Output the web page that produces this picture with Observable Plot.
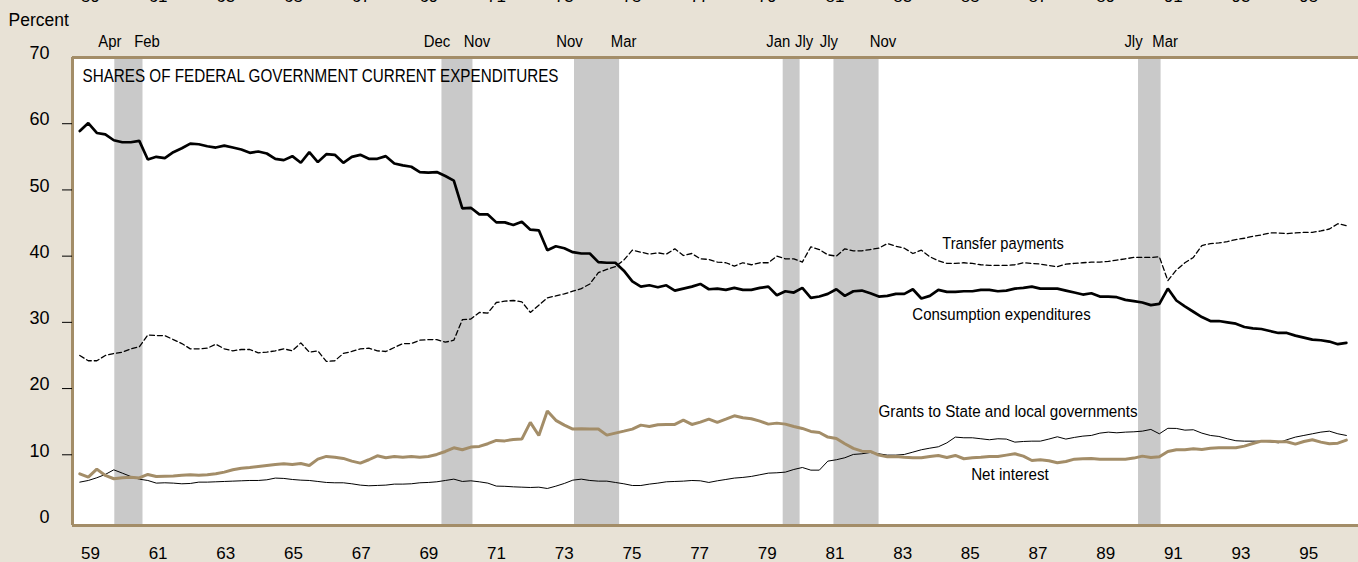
<!DOCTYPE html>
<html><head><meta charset="utf-8">
<script src="https://cdn.jsdelivr.net/npm/d3@7"></script>
<script src="https://cdn.jsdelivr.net/npm/@observablehq/plot@0.6"></script>
<style>
html,body{margin:0;padding:0;background:#e8e2d6;}
#chart{width:1358px;height:562px;overflow:hidden;}
</style></head><body><div id="chart"></div>
<script>
// Quarterly shares (percent), 1959 Q1 onward
const consumption = [58.9,60.1,58.6,58.4,57.5,57.2,57.2,57.4,54.6,55.0,54.8,55.7,56.3,57.0,56.9,56.6,56.4,56.7,56.4,56.1,
55.6,55.8,55.5,54.7,54.5,55.1,54.1,55.7,54.2,55.4,55.3,54.1,55.0,55.3,54.7,54.7,55.1,54.0,53.7,53.5,
52.7,52.6,52.7,52.1,51.4,47.2,47.3,46.3,46.3,45.1,45.1,44.7,45.2,44.0,43.9,40.9,41.5,41.2,40.6,40.4,
40.4,39.1,39.0,39.0,37.8,36.2,35.4,35.6,35.3,35.6,34.8,35.1,35.4,35.8,35.0,35.1,34.9,35.2,34.9,34.9,
35.2,35.4,34.1,34.7,34.5,35.2,33.7,33.9,34.3,35.0,34.0,34.7,34.8,34.4,33.9,34.0,34.3,34.3,35.0,33.6,
34.0,34.9,34.6,34.6,34.7,34.7,34.9,34.9,34.7,34.8,35.1,35.2,35.4,35.1,35.1,35.1,34.8,34.5,34.2,34.4,
33.9,33.9,33.8,33.4,33.2,33.0,32.6,32.8,35.1,33.3,32.4,31.6,30.8,30.2,30.2,30.0,29.8,29.3,29.1,29.0,
28.7,28.4,28.4,28.0,27.7,27.4,27.3,27.1,26.7,26.9];
const transfer = [25.0,24.2,24.2,25.0,25.3,25.5,26.0,26.3,28.1,28.0,28.0,27.4,26.8,26.0,26.0,26.1,26.7,26.0,25.7,25.9,
25.9,25.4,25.5,25.7,26.0,25.7,26.9,25.5,25.7,24.1,24.2,25.3,25.6,26.0,26.1,25.7,25.6,26.2,26.8,26.8,
27.3,27.4,27.4,27.0,27.3,30.4,30.5,31.5,31.4,33.0,33.2,33.3,33.1,31.5,32.6,33.7,34.0,34.3,34.7,35.1,
35.8,37.5,38.0,38.4,39.4,40.9,40.6,40.3,40.5,40.3,41.1,40.1,40.4,39.6,39.5,39.1,39.0,38.5,39.0,38.7,
39.0,39.0,40.0,39.6,39.6,39.1,41.4,41.0,40.2,40.0,41.1,40.8,40.8,41.0,41.2,41.9,41.5,41.2,40.4,40.9,
39.9,39.3,38.9,38.9,39.0,38.9,38.7,38.6,38.6,38.6,38.7,39.0,38.9,38.8,38.6,38.4,38.8,38.9,39.0,39.1,
39.1,39.2,39.4,39.6,39.8,39.8,39.8,39.9,36.3,37.9,39.0,39.8,41.6,41.9,42.0,42.2,42.5,42.7,43.0,43.2,
43.5,43.5,43.4,43.5,43.6,43.6,43.8,44.1,44.9,44.6];
const grants = [7.13,6.62,7.83,6.88,6.38,6.53,6.62,6.5,7.03,6.72,6.77,6.8,6.9,6.98,6.9,7.0,7.13,7.38,7.73,7.98,
8.08,8.24,8.39,8.54,8.64,8.54,8.69,8.39,9.34,9.75,9.64,9.45,9.04,8.74,9.25,9.85,9.55,9.75,9.64,9.75,
9.64,9.75,10.05,10.5,11.06,10.76,11.16,11.26,11.67,12.17,12.1,12.32,12.37,14.9,12.92,16.6,15.2,14.48,13.88,13.93,
13.88,13.88,12.97,13.27,13.57,13.88,14.48,14.28,14.53,14.58,14.58,15.23,14.58,14.93,15.38,14.88,15.38,15.89,15.59,15.44,
15.08,14.63,14.78,14.63,14.28,13.98,13.53,13.37,12.67,12.47,11.67,10.96,10.55,10.5,9.95,9.7,9.75,9.64,9.55,9.55,
9.75,9.9,9.6,9.9,9.4,9.55,9.64,9.75,9.75,9.95,10.15,9.8,9.14,9.25,9.1,8.8,8.99,9.34,9.4,9.45,
9.34,9.34,9.34,9.34,9.5,9.8,9.6,9.7,10.5,10.76,10.76,10.91,10.81,11.0,11.06,11.06,11.06,11.31,11.71,12.06,
12.06,11.96,11.96,11.61,12.01,12.27,11.91,11.67,11.76,12.21];
const netInterest = [5.87,6.12,6.53,7.03,7.73,7.23,6.72,6.32,6.12,5.72,5.77,5.72,5.62,5.67,5.87,5.87,5.92,5.97,6.02,6.07,
6.12,6.12,6.22,6.48,6.43,6.27,6.17,6.12,5.97,5.82,5.77,5.77,5.62,5.42,5.32,5.37,5.42,5.57,5.57,5.62,
5.77,5.82,5.92,6.12,6.32,5.97,6.07,5.92,5.72,5.27,5.24,5.16,5.11,5.06,5.11,4.91,5.26,5.67,6.17,6.32,
6.12,6.02,6.02,5.82,5.62,5.36,5.36,5.57,5.72,5.92,5.97,6.02,6.12,6.07,5.82,6.07,6.27,6.48,6.58,6.73,
6.98,7.23,7.28,7.38,7.78,8.08,7.68,7.68,9.04,9.25,9.55,10.05,10.15,10.35,10.15,9.95,9.95,10.05,10.4,10.76,
11.0,11.21,11.8,12.67,12.57,12.57,12.42,12.27,12.42,12.37,11.91,12.01,12.06,12.06,12.37,12.72,12.37,12.62,12.82,12.92,
13.27,13.42,13.32,13.42,13.47,13.57,13.83,13.17,14.0,13.98,13.72,13.78,13.27,12.92,12.77,12.42,12.12,12.06,12.06,12.06,
11.96,11.81,12.27,12.67,12.92,13.17,13.42,13.57,13.17,12.92];

// Recessions (peak month -> trough month)
const recessionStart = ["1960-04","1969-12","1973-11","1980-01","1981-07","1990-07"];
const recessionEnd   = ["1961-02","1970-11","1975-03","1980-07","1982-11","1991-03"];
const recessionStartLabel = ["Apr","Dec","Nov","Jan","Jly","Jly"];
const recessionEndLabel   = ["Feb","Nov","Mar","Jly","Nov","Mar"];

const yearTicks = d3.range(1959, 1997, 2);
const yearLabels = yearTicks.map(y => String(y % 100).padStart(2, "0"));
const yTickValues = [0,10,20,30,40,50,60,70];
const yTickMarkValues = [10,20,30,40,50,60];

const titleText = "SHARES OF FEDERAL GOVERNMENT CURRENT EXPENDITURES";
const seriesLabels = ["Transfer payments","Consumption expenditures","Grants to State and local governments","Net interest"];

// ---- layout / style (not data) ----
const C = {bg:"#e8e2d6", tan:"#a38d68", band:"#c9c9c9", ink:"#000"};
const FONT = "'Liberation Sans', Arial, Helvetica, sans-serif";
const yMin = -0.68, yMax = 70;
const t0 = 1959.2157, dt = 0.25118;   // quarter positions on the time axis
const labelAnchors = [
  {t:1986.497, v:41.11}, {t:1986.45, v:30.39}, {t:1986.645, v:15.68}, {t:1986.70, v:6.22}
];
const targetWidths = {
  [titleText]:476, "Transfer payments":121.6, "Consumption expenditures":178.3,
  "Grants to State and local governments":259, "Net interest":77.6
};

const monthToT = s => { const [y,m] = s.split("-").map(Number); return y + (m-1)/12; };
const recessions = recessionStart.map((s,i)=>({start:monthToT(s), end:monthToT(recessionEnd[i]), a:recessionStartLabel[i], b:recessionEndLabel[i]}));
const rows = arr => arr.map((v,i)=>({t: t0 + dt*i, v}));
const labels = seriesLabels.map((s,i)=>({text:s, ...labelAnchors[i]}));
const yearRows = yearTicks.map((y,i)=>({t:y+0.5, label:yearLabels[i]}));

const plot = Plot.plot({
  width: 1358, height: 562,
  marginLeft: 72, marginRight: 0, marginTop: 57, marginBottom: 37,
  x: {domain: [1959, 1997], axis: null},
  y: {domain: [yMin, yMax], axis: null},
  style: {background: C.bg, fontFamily: FONT, color: C.ink},
  marks: [
    Plot.frame({fill: "white", stroke: null}),
    Plot.rect(recessions, {x1: "start", x2: "end", y1: yMin, y2: yMax, fill: C.band}),
    Plot.line(rows(netInterest), {x:"t", y:"v", stroke:C.ink, strokeWidth:1}),
    Plot.line(rows(grants), {x:"t", y:"v", stroke:C.tan, strokeWidth:3, strokeLinejoin:"miter"}),
    Plot.line(rows(transfer), {x:"t", y:"v", stroke:C.ink, strokeWidth:1.3, strokeDasharray:"5,3"}),
    Plot.line(rows(consumption), {x:"t", y:"v", stroke:C.ink, strokeWidth:2.7, strokeLinejoin:"miter"}),
    // frame borders (left, top, bottom)
    Plot.ruleX([1959], {stroke:C.tan, strokeWidth:3}),
    Plot.ruleY([yMax, yMin], {stroke:C.tan, strokeWidth:3, x1:1959, x2:1997}),
    // y ticks and labels
    Plot.axisY(yTickMarkValues, {anchor:"left", tickSize:10, tickFormat:()=>"", label:null, stroke:C.ink}),
    Plot.text(yTickValues, {y:d=>d, text:d=>String(d), frameAnchor:"left", textAnchor:"end", dx:-23, dy:-4, fontSize:18, fill:C.ink}),
    // x labels (bottom) and clipped top labels
    Plot.text(yearRows, {x:"t", text:"label", frameAnchor:"bottom", lineAnchor:"bottom", dy:33.3, dx:1, fontSize:17, fill:C.ink}),
    Plot.text(yearRows, {x:"t", text:"label", frameAnchor:"top", lineAnchor:"bottom", dy:-56, dx:1, fontSize:17, fill:C.ink}),
    // recession labels
    Plot.text(recessions, {x:"start", text:"a", frameAnchor:"top", lineAnchor:"bottom", dy:-10.3, dx:-5, fontSize:16, fill:C.ink}),
    Plot.text(recessions, {x:"end", text:"b", frameAnchor:"top", lineAnchor:"bottom", dy:-10.3, dx:4, fontSize:16, fill:C.ink}),
    // titles
    Plot.text(["Percent"], {text:d=>d, frameAnchor:"top-left", textAnchor:"start", lineAnchor:"bottom", dx:-64, dy:-32, fontSize:17.5, fill:C.ink}),
    Plot.text([titleText], {text:d=>d, frameAnchor:"top-left", textAnchor:"start", lineAnchor:"bottom", dx:10, dy:24.7, fontSize:18.5, fill:C.ink}),
    // series labels
    Plot.text(labels, {x:"t", y:"v", text:"text", textAnchor:"middle", lineAnchor:"bottom", fontSize:16.3, fill:C.ink})
  ]
});
document.getElementById("chart").appendChild(plot);

// condense text like the original narrow typeface
plot.querySelectorAll("text").forEach(el => {
  const s = el.textContent;
  if (targetWidths[s]) {
    el.setAttribute("textLength", targetWidths[s]);
    el.setAttribute("lengthAdjust", "spacingAndGlyphs");
  } else if (recessionStartLabel.includes(s) || recessionEndLabel.includes(s)) {
    const w = el.getComputedTextLength();
    el.setAttribute("textLength", (w*0.93).toFixed(1));
    el.setAttribute("lengthAdjust", "spacingAndGlyphs");
  }
});
</script></body></html>
